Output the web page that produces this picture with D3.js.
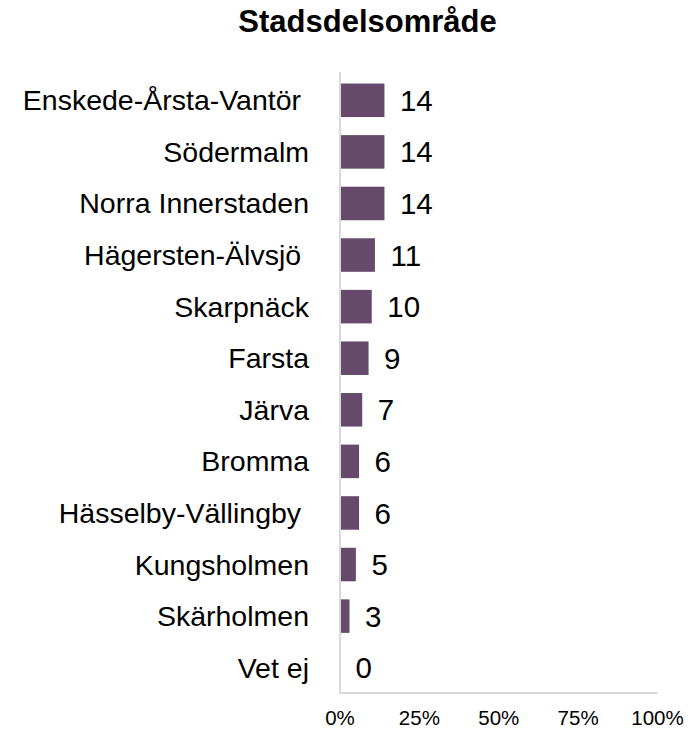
<!DOCTYPE html>
<html>
<head>
<meta charset="utf-8">
<script src="https://cdn.jsdelivr.net/npm/d3@7"></script>
<style>
  html, body { margin: 0; padding: 0; background: #fff; }
  svg text { font-family: Arial, "Liberation Sans", sans-serif; white-space: pre; }
</style>
</head>
<body>
<svg id="chart" width="697" height="730"></svg>
<script>
const title = "Stadsdelsområde";
const categories = [
  "Enskede-Årsta-Vantör ",
  "Södermalm",
  "Norra Innerstaden",
  "Hägersten-Älvsjö ",
  "Skarpnäck",
  "Farsta",
  "Järva",
  "Bromma",
  "Hässelby-Vällingby ",
  "Kungsholmen",
  "Skärholmen",
  "Vet ej"
];
const values = [14, 14, 14, 11, 10, 9, 7, 6, 6, 5, 3, 0];
const tickValues = [0, 25, 50, 75, 100];
const tickLabels = ["0%", "25%", "50%", "75%", "100%"];

const svg = d3.select("#chart");
const x = d3.scaleLinear().domain([0, 100]).range([340, 657.5]);
const y = d3.scaleBand().domain(categories).range([74.5, 693.5]).paddingInner(0.35).paddingOuter(0.175);

const barColor = "#654a6b";
const axisColor = "#d9d9d9";

// title
svg.append("text")
  .attr("x", 367.5).attr("y", 31.5)
  .attr("text-anchor", "middle")
  .attr("font-size", 31).attr("font-weight", "bold")
  .attr("fill", "#000")
  .text(title);

// bars
svg.selectAll("rect.bar").data(values).enter().append("rect")
  .attr("class", "bar")
  .attr("x", x(0))
  .attr("y", (d, i) => y(categories[i]))
  .attr("width", d => x(d) - x(0))
  .attr("height", y.bandwidth())
  .attr("fill", barColor);

// axes lines
svg.append("line")
  .attr("x1", x(0)).attr("x2", x(0))
  .attr("y1", 72).attr("y2", 693)
  .attr("stroke", axisColor).attr("stroke-width", 2);
svg.append("line")
  .attr("x1", x(0) - 1).attr("x2", x(100))
  .attr("y1", 693).attr("y2", 693)
  .attr("stroke", axisColor).attr("stroke-width", 2);

// category labels
svg.selectAll("text.cat").data(categories).enter().append("text")
  .attr("class", "cat")
  .attr("x", 309)
  .attr("y", d => y(d) + y.bandwidth() / 2)
  .attr("dy", "0.35em")
  .attr("text-anchor", "end")
  .attr("font-size", 28.5)
  .attr("fill", "#000")
  .text(d => d);

// value labels
svg.selectAll("text.val").data(values).enter().append("text")
  .attr("class", "val")
  .attr("x", d => x(d) + 15.5)
  .attr("y", (d, i) => y(categories[i]) + y.bandwidth() / 2)
  .attr("dy", "0.36em")
  .attr("text-anchor", "start")
  .attr("font-size", 29.5)
  .attr("fill", "#000")
  .text(d => d3.format("d")(Math.round(d)));

// x tick labels
svg.selectAll("text.tick").data(tickValues).enter().append("text")
  .attr("class", "tick")
  .attr("x", d => x(d))
  .attr("y", 725)
  .attr("text-anchor", "middle")
  .attr("font-size", 20.5)
  .attr("fill", "#000")
  .text((d, i) => tickLabels[i]);
</script>
</body>
</html>
